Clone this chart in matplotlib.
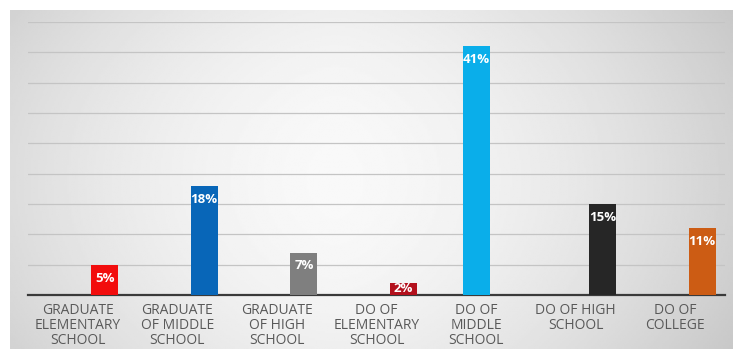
import numpy as np
import matplotlib
matplotlib.use('Agg')
import matplotlib.pyplot as plt

# DATOS DEL GRAFICO
categories = ['GRADUATE\nELEMENTARY\nSCHOOL', 'GRADUATE\nOF MIDDLE\nSCHOOL', 'GRADUATE\nOF HIGH\nSCHOOL',
              'DO OF\nELEMENTARY\nSCHOOL', 'DO OF\nMIDDLE\nSCHOOL', 'DO OF HIGH\nSCHOOL', 'DO OF\nCOLLEGE']
values = [5, 18, 7, 2, 41, 15, 11]
colors = ['#f20d0d', '#0866b8', '#7f7f7f', '#b3101c', '#0aaeea', '#262626', '#cc5c14']

fig = plt.figure(figsize=(7.33, 3.49), dpi=100)

# FONDO GRIS CON DEGRADADO
bg = fig.add_axes([10/733, 0, 1 - 10/733, 1 - 10/349], zorder=0)
gx = np.linspace(-1, 1, 400)
gy = np.linspace(-1, 1, 200)
X, Y = np.meshgrid(gx, gy)
shade = 0.975 - 0.13 * np.abs(X + 0.1) ** 1.6 - 0.04 * Y ** 2
bg.imshow(shade, cmap='gray', vmin=0, vmax=1, aspect='auto', extent=[0, 1, 0, 1])
bg.axis('off')

ax = fig.add_axes([28/733, 54/349, 697/733, 273/349], zorder=1)
ax.set_facecolor('none')

x = np.arange(len(categories))
width = 0.27
# la barra de DO OF MIDDLE SCHOOL va centrada, las otras desplazadas a la derecha
offsets = [0 if c == 'DO OF\nMIDDLE\nSCHOOL' else width for c in categories]
bars = ax.bar(x + np.array(offsets), values, width=width, color=colors, zorder=3)

for b, v in zip(bars, values):
    ax.text(b.get_x() + b.get_width() / 2, max(v - 2.2, v / 2), f'{v}%', ha='center', va='center',
            color='white', fontsize=9.5, fontweight='bold', family='Open Sans', zorder=4)

ax.set_xlim(-0.5, len(categories) - 0.5)
ax.set_ylim(0, 45)
ax.set_yticks(np.arange(5, 46, 5))
ax.yaxis.grid(True, color='#c4c4c4', linewidth=0.9)
ax.set_axisbelow(True)
ax.tick_params(axis='y', left=False, labelleft=False)
ax.set_xticks(x)
ax.set_xticklabels(categories, fontsize=10, color='#595959', family='Open Sans', linespacing=0.98)
ax.tick_params(axis='x', length=0, pad=6)
for s in ['top', 'right', 'left']:
    ax.spines[s].set_visible(False)
ax.spines['bottom'].set_color('#3a3a3a')
ax.spines['bottom'].set_linewidth(1.6)

plt.savefig('out.png', dpi=100)
